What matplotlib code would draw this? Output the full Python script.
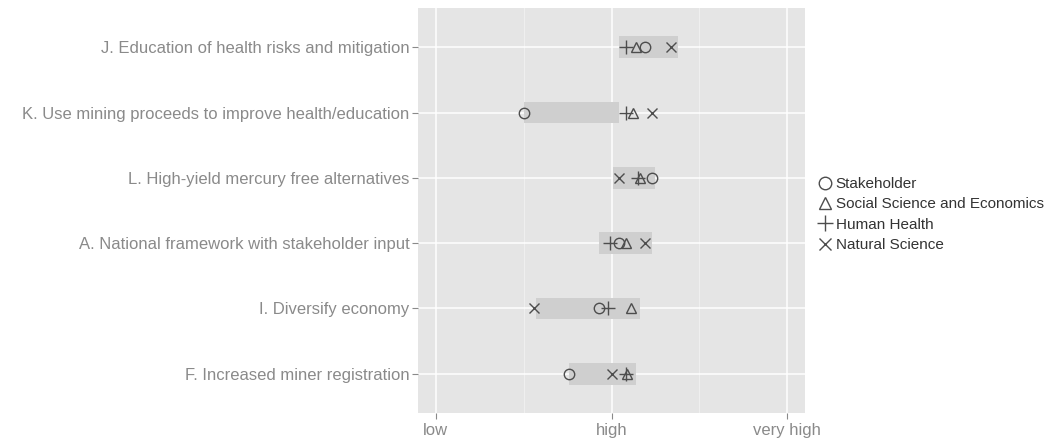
import matplotlib.pyplot as plt
import numpy as np

plt.rcParams["font.family"] = ["Liberation Sans", "DejaVu Sans"]

# priority actions, bottom row first
actions = [
    "F. Increased miner registration",
    "I. Diversify economy",
    "A. National framework with stakeholder input",
    "L. High-yield mercury free alternatives",
    "K. Use mining proceeds to improve health/education",
    "J. Education of health risks and mitigation",
]

# mean rating per group (1 = low, 2 = high, 3 = very high)
stakeholder = [1.76, 1.93, 2.04, 2.23, 1.50, 2.19]
social_science = [2.09, 2.11, 2.08, 2.16, 2.12, 2.14]
human_health = [2.08, 1.98, 1.99, 2.15, 2.08, 2.08]
natural_science = [2.00, 1.56, 2.19, 2.04, 2.23, 2.34]

# shaded spread behind each row
spread_lo = [1.76, 1.57, 1.93, 2.01, 1.50, 2.04]
spread_hi = [2.14, 2.16, 2.23, 2.25, 2.04, 2.38]

level_ticks = [1, 2, 3]
level_labels = ["low", "high", "very high"]

fig = plt.figure(figsize=(10.53, 4.43), dpi=100)
ax = fig.add_axes([418 / 1053, 1 - 413 / 443, 387 / 1053, 405 / 443])
ax.set_facecolor("#e5e5e5")

y = np.arange(len(actions))
ax.barh(y, np.array(spread_hi) - np.array(spread_lo), left=spread_lo,
        height=0.33, color="#cfcfcf", zorder=2)

mk = dict(linestyle="none", color="#4d4d4d", markerfacecolor="none",
          markersize=7.5, markeredgewidth=1.0, zorder=3)
ax.plot(stakeholder, y, marker="o", label="Stakeholder", **mk)
ax.plot(social_science, y, marker="^", label="Social Science and Economics", **mk)
ax.plot(human_health, y, marker="+", label="Human Health", **dict(mk, markersize=10))
ax.plot(natural_science, y, marker="x", label="Natural Science", **mk)

ax.set_xlim(0.9, 3.1)
ax.set_ylim(-0.6, len(actions) - 0.4)
ax.set_xticks(level_ticks)
ax.set_xticklabels(level_labels)
ax.set_xticks([1.5, 2.5], minor=True)
ax.set_yticks(y)
ax.set_yticklabels(actions)

ax.grid(which="major", color="white", linewidth=1.1, zorder=0)
ax.grid(which="minor", axis="x", color="#f2f2f2", linewidth=0.6, zorder=0)
ax.set_axisbelow(True)
for s in ax.spines.values():
    s.set_visible(False)
ax.tick_params(which="major", colors="#8a8a8a", labelsize=12, length=4, width=0.8)
ax.tick_params(which="minor", length=0)
ax.tick_params(axis="y", pad=2)

leg = ax.legend(loc="upper left", bbox_to_anchor=(818 / 1053, 1 - 177 / 443),
                bbox_transform=fig.transFigure, frameon=False, fontsize=11,
                handlelength=0.9, handletextpad=0.25, labelspacing=0.42,
                markerscale=1.2, borderaxespad=0, borderpad=0)
for t in leg.get_texts():
    t.set_color("#333333")

fig.savefig("out.png", dpi=100)
